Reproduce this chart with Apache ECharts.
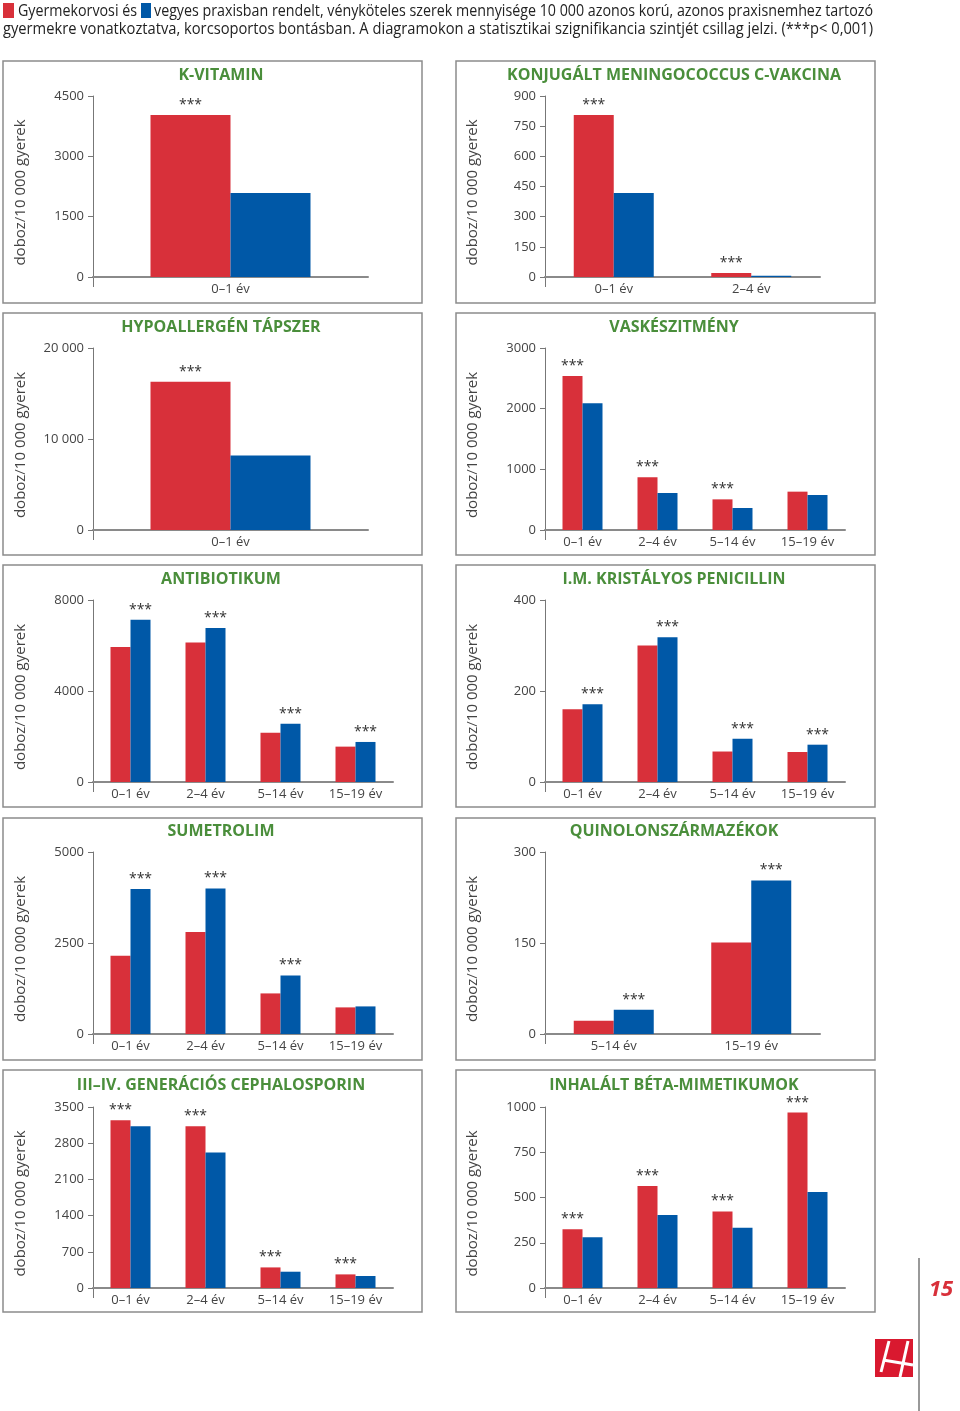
<!DOCTYPE html>
<html><head><meta charset="utf-8">
<script src="https://cdn.jsdelivr.net/npm/echarts@6/dist/echarts.min.js"></script>
<style>html,body{margin:0;padding:0;background:#fff}#c{width:960px;height:1411px}</style>
</head><body><div id="c"></div>
<script>
// ---------- DATA ----------
const headerLine1a = 'Gyermekorvosi és';
const headerLine1b = 'vegyes praxisban rendelt, vényköteles szerek mennyisége 10 000 azonos korú, azonos praxisnemhez tartozó';
const headerLine2 = 'gyermekre vonatkoztatva, korcsoportos bontásban. A diagramokon a statisztikai szignifikancia szintjét csillag jelzi. (***p< 0,001)';
const yAxisName = 'doboz/10 000 gyerek';
const starText = '***';

const kVitaminTitle = 'K-VITAMIN';
const kVitaminCats = ['0–1 év'];
const kVitaminRed = [4030];
const kVitaminBlue = [2090];
const kVitaminStars = ['red'];
const kVitaminTicks = [0, 1500, 3000, 4500];

const meningTitle = 'KONJUGÁLT MENINGOCOCCUS C-VAKCINA';
const meningCats = ['0–1 év', '2–4 év'];
const meningRed = [805, 20];
const meningBlue = [418, 6];
const meningStars = ['red', 'red'];
const meningTicks = [0, 150, 300, 450, 600, 750, 900];

const hypoTitle = 'HYPOALLERGÉN TÁPSZER';
const hypoCats = ['0–1 év'];
const hypoRed = [16300];
const hypoBlue = [8200];
const hypoStars = ['red'];
const hypoTicks = [0, 10000, 20000];

const vasTitle = 'VASKÉSZITMÉNY';
const vasCats = ['0–1 év', '2–4 év', '5–14 év', '15–19 év'];
const vasRed = [2540, 870, 505, 632];
const vasBlue = [2090, 610, 363, 577];
const vasStars = ['red', 'red', 'red', ''];
const vasTicks = [0, 1000, 2000, 3000];

const antibTitle = 'ANTIBIOTIKUM';
const antibCats = ['0–1 év', '2–4 év', '5–14 év', '15–19 év'];
const antibRed = [5930, 6130, 2170, 1555];
const antibBlue = [7130, 6770, 2555, 1760];
const antibStars = ['blue', 'blue', 'blue', 'blue'];
const antibTicks = [0, 4000, 8000];

const penTitle = 'I.M. KRISTÁLYOS PENICILLIN';
const penCats = ['0–1 év', '2–4 év', '5–14 év', '15–19 év'];
const penRed = [160, 300, 67, 66];
const penBlue = [171, 318, 95, 82];
const penStars = ['blue', 'blue', 'blue', 'blue'];
const penTicks = [0, 200, 400];

const sumTitle = 'SUMETROLIM';
const sumCats = ['0–1 év', '2–4 év', '5–14 év', '15–19 év'];
const sumRed = [2150, 2800, 1115, 731];
const sumBlue = [3985, 4000, 1610, 758];
const sumStars = ['blue', 'blue', 'blue', ''];
const sumTicks = [0, 2500, 5000];

const quinTitle = 'QUINOLONSZÁRMAZÉKOK';
const quinCats = ['5–14 év', '15–19 év'];
const quinRed = [22, 151];
const quinBlue = [40, 253];
const quinStars = ['blue', 'blue'];
const quinTicks = [0, 150, 300];

const cephTitle = 'III–IV. GENERÁCIÓS CEPHALOSPORIN';
const cephCats = ['0–1 év', '2–4 év', '5–14 év', '15–19 év'];
const cephRed = [3243, 3127, 398, 263];
const cephBlue = [3127, 2618, 315, 232];
const cephStars = ['red', 'red', 'red', 'red'];
const cephTicks = [0, 700, 1400, 2100, 2800, 3500];

const inhTitle = 'INHALÁLT BÉTA-MIMETIKUMOK';
const inhCats = ['0–1 év', '2–4 év', '5–14 év', '15–19 év'];
const inhRed = [325, 563, 423, 969];
const inhBlue = [281, 403, 333, 531];
const inhStars = ['red', 'red', 'red', 'red'];
const inhTicks = [0, 250, 500, 750, 1000];

const pageNumber = '15';

// ---------- STYLE / LAYOUT ----------
const RED = '#d8303a', BLUE = '#0058a7', GREEN = '#4a8e3b';
const FONT = "'Open Sans', 'Noto Sans', sans-serif";
const HEAD_FONT = "16.5px " + FONT;
const rowBoxY = [61, 313, 565, 818, 1070];
const rowGridTop = [96, 348, 600, 852, 1107];
const rowZero = [277, 530, 782, 1034, 1288];
const rowTitleY = [75, 327, 579, 831, 1085];
const colBoxX = [3, 456];
const boxW = 419, boxH = 242;
const colAxisX = [93, 545];
const colTitleX = [221, 674];
const gridWidthByCount = {1: 275, 2: 275, 4: 300};
const barWidthByCount = {1: 80, 2: 40, 4: 20};

const panels = [
  {title: kVitaminTitle, cats: kVitaminCats, red: kVitaminRed, blue: kVitaminBlue, stars: kVitaminStars, ticks: kVitaminTicks, row: 0, col: 0},
  {title: meningTitle, cats: meningCats, red: meningRed, blue: meningBlue, stars: meningStars, ticks: meningTicks, row: 0, col: 1},
  {title: hypoTitle, cats: hypoCats, red: hypoRed, blue: hypoBlue, stars: hypoStars, ticks: hypoTicks, row: 1, col: 0},
  {title: vasTitle, cats: vasCats, red: vasRed, blue: vasBlue, stars: vasStars, ticks: vasTicks, row: 1, col: 1},
  {title: antibTitle, cats: antibCats, red: antibRed, blue: antibBlue, stars: antibStars, ticks: antibTicks, row: 2, col: 0},
  {title: penTitle, cats: penCats, red: penRed, blue: penBlue, stars: penStars, ticks: penTicks, row: 2, col: 1},
  {title: sumTitle, cats: sumCats, red: sumRed, blue: sumBlue, stars: sumStars, ticks: sumTicks, row: 3, col: 0},
  {title: quinTitle, cats: quinCats, red: quinRed, blue: quinBlue, stars: quinStars, ticks: quinTicks, row: 3, col: 1},
  {title: cephTitle, cats: cephCats, red: cephRed, blue: cephBlue, stars: cephStars, ticks: cephTicks, row: 4, col: 0},
  {title: inhTitle, cats: inhCats, red: inhRed, blue: inhBlue, stars: inhStars, ticks: inhTicks, row: 4, col: 1}
];

const starLabel = {show: true, position: 'top', distance: 3, formatter: starText, color: '#333', fontSize: 14, fontFamily: FONT};
function fmt(v) {
  if (v >= 10000) { const s = String(v); return s.slice(0, s.length - 3) + ' ' + s.slice(-3); }
  return String(v);
}

const grid = [], xAxis = [], yAxis = [], series = [], graphic = [];

// header: text compressed horizontally to fit the line width, like the condensed original
const mctx = document.createElement('canvas').getContext('2d');
mctx.font = HEAD_FONT;
const wA = mctx.measureText(headerLine1a).width;
const wB = mctx.measureText(headerLine1b).width;
const w2 = mctx.measureText(headerLine2).width;
const sq1 = 11, sq2 = 10, gapA = 4, gapB = 4, gapC = 3;
const left = 3, right = 873;
const s1 = (right - left - sq1 - gapA - gapB - sq2 - gapC) / (wA + wB);
const s2 = (right - left) / w2;
let hx = left;
graphic.push({type: 'rect', shape: {x: hx, y: 3, width: sq1, height: 15}, style: {fill: RED}});
hx += sq1 + gapA;
graphic.push({type: 'text', x: hx, y: 11, scaleX: s1, style: {text: headerLine1a, font: HEAD_FONT, fill: '#222', verticalAlign: 'middle'}});
hx += wA * s1 + gapB;
graphic.push({type: 'rect', shape: {x: hx, y: 3, width: sq2, height: 15}, style: {fill: BLUE}});
hx += sq2 + gapC;
graphic.push({type: 'text', x: hx, y: 11, scaleX: s1, style: {text: headerLine1b, font: HEAD_FONT, fill: '#222', verticalAlign: 'middle'}});
graphic.push({type: 'text', x: left, y: 29.5, scaleX: s2, style: {text: headerLine2, font: HEAD_FONT, fill: '#222', verticalAlign: 'middle'}});

panels.forEach((p, i) => {
  const n = p.cats.length;
  const ax = colAxisX[p.col];
  const top = rowGridTop[p.row];
  const zero = rowZero[p.row];
  grid.push({left: ax, top: top, width: gridWidthByCount[n], height: zero - top});
  xAxis.push({
    type: 'category', gridIndex: i, data: p.cats,
    axisLine: {show: true, lineStyle: {color: '#8a8a8a', width: 2}},
    axisTick: {show: false},
    axisLabel: {color: '#444', fontSize: 13, fontFamily: FONT, margin: 6}
  });
  const t = p.ticks;
  yAxis.push({
    type: 'value', gridIndex: i, min: t[0], max: t[t.length - 1], interval: t[1] - t[0],
    name: yAxisName, nameLocation: 'middle', nameGap: 65,
    nameTextStyle: {color: '#444', fontSize: 15, fontFamily: FONT, padding: [0, 12, 0, 0]},
    axisLine: {show: true, lineStyle: {color: '#777', width: 1}},
    axisTick: {show: true, length: 5, lineStyle: {color: '#777'}},
    splitLine: {show: false},
    axisLabel: {color: '#444', fontSize: 13, fontFamily: FONT, margin: 9, formatter: fmt}
  });
  const bw = barWidthByCount[n];
  series.push({
    type: 'bar', xAxisIndex: i, yAxisIndex: i, barWidth: bw, barGap: '0%',
    itemStyle: {color: RED}, silent: true, animation: false,
    data: p.red.map((v, k) => p.stars[k] === 'red' ? {value: v, label: starLabel} : v)
  });
  series.push({
    type: 'bar', xAxisIndex: i, yAxisIndex: i, barWidth: bw, barGap: '0%',
    itemStyle: {color: BLUE}, silent: true, animation: false,
    data: p.blue.map((v, k) => p.stars[k] === 'blue' ? {value: v, label: starLabel} : v)
  });
  graphic.push({type: 'rect', shape: {x: colBoxX[p.col], y: rowBoxY[p.row], width: boxW, height: boxH},
    style: {fill: 'none', stroke: '#8c8c8c', lineWidth: 1.5}, z: -1});
  graphic.push({type: 'text', x: colTitleX[p.col], y: rowTitleY[p.row],
    style: {text: p.title, font: "bold 16px " + FONT, fill: GREEN, align: 'center', verticalAlign: 'middle'}});
  graphic.push({type: 'line', shape: {x1: ax + 0.5, y1: zero, x2: ax + 0.5, y2: zero + 10}, style: {stroke: '#777', lineWidth: 1}});
});

graphic.push({type: 'line', shape: {x1: 919, y1: 1258, x2: 919, y2: 1411}, style: {stroke: '#555', lineWidth: 1.2}});
graphic.push({type: 'text', x: 941, y: 1290, style: {text: pageNumber, font: "italic bold 22px " + FONT, fill: RED, align: 'center', verticalAlign: 'middle'}});
graphic.push({type: 'rect', shape: {x: 875, y: 1339, width: 38, height: 38}, style: {fill: '#d9192f'}});
graphic.push({type: 'line', shape: {x1: 889, y1: 1341, x2: 881, y2: 1372}, style: {stroke: '#fff', lineWidth: 3}});
graphic.push({type: 'line', shape: {x1: 908, y1: 1341, x2: 900, y2: 1377}, style: {stroke: '#fff', lineWidth: 3}});
graphic.push({type: 'line', shape: {x1: 883, y1: 1360, x2: 913, y2: 1365}, style: {stroke: '#fff', lineWidth: 3}});

const chart = echarts.init(document.getElementById('c'), null, {renderer: 'canvas'});
chart.setOption({
  animation: false,
  backgroundColor: '#fff',
  grid, xAxis, yAxis, series, graphic
});
</script></body></html>
